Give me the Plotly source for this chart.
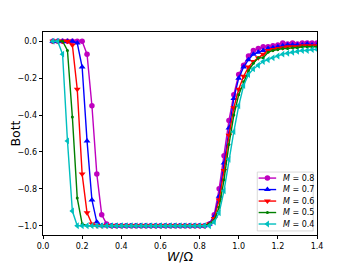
import plotly.graph_objects as go

W = [0.05, 0.075, 0.1, 0.125, 0.15, 0.175, 0.2, 0.225, 0.25, 0.275,
     0.3, 0.325, 0.35, 0.375, 0.4, 0.425, 0.45, 0.475, 0.5, 0.525,
     0.55, 0.575, 0.6, 0.625, 0.65, 0.675, 0.7, 0.725, 0.75, 0.775,
     0.8, 0.825, 0.85, 0.875, 0.9, 0.925, 0.95, 0.975, 1.0, 1.025,
     1.05, 1.075, 1.1, 1.125, 1.15, 1.175, 1.2, 1.225, 1.25, 1.275,
     1.3, 1.325, 1.35, 1.375, 1.4]

bott_m08 = [0, 0, 0, 0, 0, 0, 0, -0.07, -0.35, -0.72, -0.94, -0.99] + [-1.0] * 20 + \
    [-0.99, -0.94, -0.80, -0.62, -0.43, -0.29, -0.18, -0.13, -0.08, -0.05, -0.04,
     -0.03, -0.03, -0.025, -0.02, -0.01, -0.015, -0.01, -0.015, -0.01, -0.01, -0.01, -0.01]
bott_m07 = [0, 0, 0, 0, 0, -0.01, -0.14, -0.54, -0.86, -0.98] + [-1.0] * 22 + \
    [-0.99, -0.95, -0.84, -0.66, -0.47, -0.31, -0.20, -0.14, -0.10, -0.07, -0.06,
     -0.05, -0.04, -0.035, -0.03, -0.025, -0.02, -0.02, -0.02, -0.02, -0.015, -0.02, -0.02]
bott_m06 = [0, 0, 0, 0, -0.02, -0.26, -0.72, -0.93, -0.99] + [-1.0] * 23 + \
    [-0.99, -0.96, -0.86, -0.70, -0.51, -0.36, -0.26, -0.19, -0.14, -0.11, -0.09,
     -0.07, -0.05, -0.045, -0.04, -0.035, -0.03, -0.03, -0.03, -0.025, -0.025, -0.025, -0.025]
bott_m05 = [0, 0, 0, -0.05, -0.41, -0.85, -0.99] + [-1.0] * 25 + \
    [-0.99, -0.97, -0.90, -0.75, -0.56, -0.40, -0.29, -0.22, -0.16, -0.12, -0.09,
     -0.09, -0.06, -0.05, -0.045, -0.04, -0.04, -0.035, -0.035, -0.03, -0.03, -0.03, -0.03]
bott_m04 = [0, 0, -0.07, -0.54, -0.92] + [-1.0] * 27 + \
    [-1.0, -0.98, -0.93, -0.81, -0.64, -0.49, -0.35, -0.24, -0.18, -0.15, -0.13,
     -0.11, -0.10, -0.09, -0.08, -0.07, -0.065, -0.06, -0.055, -0.05, -0.05, -0.045, -0.045]

labels = ["<i>M</i> = 0.8", "<i>M</i> = 0.7", "<i>M</i> = 0.6", "<i>M</i> = 0.5", "<i>M</i> = 0.4"]
values = [bott_m08, bott_m07, bott_m06, bott_m05, bott_m04]
colors = ["#bf00bf", "#0000ff", "#ff0000", "#008000", "#00bfbf"]
symbols = ["circle", "triangle-up", "triangle-down", "circle", "triangle-left"]
sizes = [5.5, 6, 6, 3, 6]

fig = go.Figure()
for name, ys, col, sym, sz in zip(labels, values, colors, symbols, sizes):
    fig.add_trace(go.Scatter(
        x=W, y=ys, name=name, mode="lines+markers", showlegend=False,
        line=dict(color=col, width=1.4),
        marker=dict(color=col, symbol=sym, size=sz, line=dict(width=0)),
    ))

# legend drawn in a fixed overlay frame (0..1 coordinates over the plot area)
leg_left, leg_right, leg_top, leg_bottom = 0.782, 0.986, 0.310, 0.020
row_y = [0.2804, 0.2238, 0.1672, 0.1107, 0.0541]
line_x0, line_x1, mark_x, text_x = 0.787, 0.851, 0.819, 0.869

fig.add_shape(type="rect", xref="paper", yref="paper",
              x0=leg_left, x1=leg_right, y0=leg_bottom, y1=leg_top,
              line=dict(color="#d0d0d0", width=0.8), fillcolor="white", layer="below")
for name, col, sym, sz, yy in zip(labels, colors, symbols, sizes, row_y):
    fig.add_trace(go.Scatter(x=[line_x0, line_x1], y=[yy, yy], mode="lines",
                             xaxis="x2", yaxis="y2", showlegend=False, hoverinfo="skip",
                             line=dict(color=col, width=1.4), cliponaxis=False))
    fig.add_trace(go.Scatter(x=[mark_x], y=[yy], mode="markers",
                             xaxis="x2", yaxis="y2", showlegend=False, hoverinfo="skip",
                             marker=dict(color=col, symbol=sym, size=sz, line=dict(width=0)),
                             cliponaxis=False))
    fig.add_annotation(x=text_x, y=yy, xref="paper", yref="paper", text=name,
                       showarrow=False, xanchor="left", yanchor="middle",
                       font=dict(size=8, family="DejaVu Sans", color="black"))

# page body has an 8px margin, so the figure is a little smaller than the window
fig.update_layout(
    width=344, height=256,
    margin=dict(l=35, r=35, t=24, b=29),
    paper_bgcolor="white", plot_bgcolor="white",
    font=dict(family="DejaVu Sans", size=8, color="black"),
    showlegend=False,
    xaxis2=dict(overlaying="x", anchor="y2", range=[0, 1], visible=False, fixedrange=True),
    yaxis2=dict(overlaying="y", anchor="x2", range=[0, 1], visible=False, fixedrange=True),
)
fig.layout.xaxis.update(range=[0, 1.4], tickmode="array",
                 tickvals=[0, 0.2, 0.4, 0.6, 0.8, 1.0, 1.2, 1.4],
                 ticktext=["0.0", "0.2", "0.4", "0.6", "0.8", "1.0", "1.2", "1.4"],
                 ticks="outside", ticklen=3.5, tickwidth=0.8, tickcolor="black",
                 showline=True, linecolor="black", linewidth=0.8, mirror=True,
                 showgrid=False, zeroline=False, automargin=False,
                 title=dict(text="<i>W</i>/Ω", font=dict(size=12.5), standoff=2))
fig.layout.yaxis.update(range=[-1.05, 0.05], tickmode="array",
                 tickvals=[-1.0, -0.8, -0.6, -0.4, -0.2, 0.0],
                 ticktext=["−1.0", "−0.8", "−0.6", "−0.4", "−0.2", "0.0"],
                 ticks="outside", ticklen=3.5, tickwidth=0.8, tickcolor="black",
                 showline=True, linecolor="black", linewidth=0.8, mirror=True,
                 showgrid=False, zeroline=False, automargin=False,
                 title=dict(text="Bott", font=dict(size=12.5), standoff=7))

fig.write_html("out.html")
